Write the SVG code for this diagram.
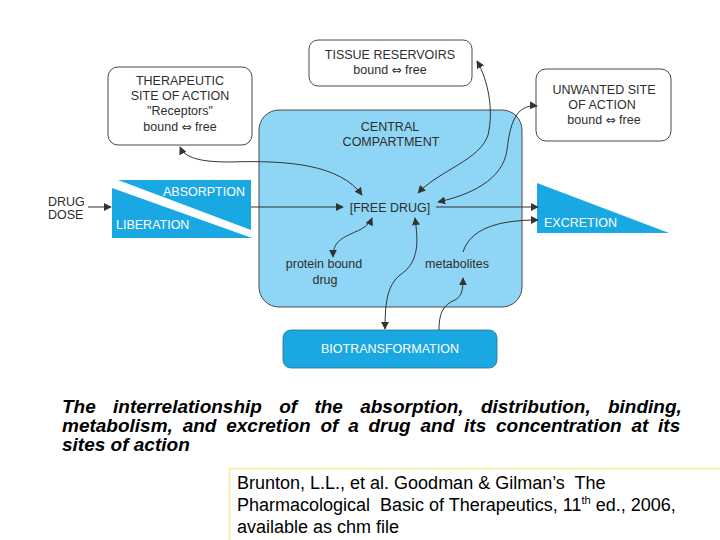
<svg xmlns="http://www.w3.org/2000/svg" width="720" height="540" viewBox="0 0 720 540">
<defs>
<style>
.lbl{font-family:"Liberation Sans","DejaVu Sans",Arial,sans-serif;font-size:12.5px;fill:#2e2e2e;text-anchor:middle}
.wl{font-family:"Liberation Sans","DejaVu Sans",Arial,sans-serif;font-size:12.5px;fill:#ffffff}
.sym{font-family:"DejaVu Sans",sans-serif;font-size:12px}
.box{fill:#ffffff;stroke:#4a4a4a;stroke-width:1}
.dark{fill:#1aa8e2}
.con{fill:none;stroke:#333333;stroke-width:1}
.cap{font-family:"Liberation Sans",Arial,sans-serif;font-size:19px;font-weight:bold;font-style:italic;fill:#000}
.cit{font-family:"Liberation Sans",Arial,sans-serif;font-size:18px;fill:#000}
</style>
<marker id="ah" viewBox="0 0 10 10" refX="9" refY="5" markerWidth="8" markerHeight="8" markerUnits="userSpaceOnUse" orient="auto-start-reverse">
<path d="M0,0 L10,5 L0,10 Z" fill="#333333"/>
</marker>
</defs>
<rect width="720" height="540" fill="#ffffff"/>

<g id="tissue">
<rect class="box" x="309" y="40" width="163" height="46" rx="9"/>
<text class="lbl" x="390" y="59">TISSUE RESERVOIRS</text>
<text class="lbl" x="390" y="74">bound <tspan class="sym">⇔</tspan> free</text>
</g>

<g id="therapeutic">
<rect class="box" x="108" y="67" width="144" height="78" rx="10"/>
<text class="lbl" x="180" y="85">THERAPEUTIC</text>
<text class="lbl" x="180" y="100">SITE OF ACTION</text>
<text class="lbl" x="180" y="115">"Receptors"</text>
<text class="lbl" x="180" y="131">bound <tspan class="sym">⇔</tspan> free</text>
</g>

<g id="unwanted">
<rect class="box" x="536" y="69" width="135" height="72" rx="10"/>
<text class="lbl" x="604" y="94">UNWANTED SITE</text>
<text class="lbl" x="602" y="109">OF ACTION</text>
<text class="lbl" x="604" y="124">bound <tspan class="sym">⇔</tspan> free</text>
</g>

<g id="central">
<rect x="259" y="110" width="263" height="197" rx="20" fill="#8fd5f5" stroke="#4a4a4a" stroke-width="1"/>
<text class="lbl" x="390" y="131">CENTRAL</text>
<text class="lbl" x="391" y="146">COMPARTMENT</text>
<text class="lbl" x="390" y="212">[FREE DRUG]</text>
<text class="lbl" x="324" y="268">protein bound</text>
<text class="lbl" x="325" y="284">drug</text>
<text class="lbl" x="457" y="268">metabolites</text>
</g>

<g id="drugdose">
<text class="lbl" x="48" y="206" style="text-anchor:start">DRUG</text>
<text class="lbl" x="48" y="219" style="text-anchor:start">DOSE</text>
</g>

<g id="absorption">
<polygon class="dark" points="118,180 251,180 251,230"/>
<polygon class="dark" points="112,188 252,238 112,238"/>
<text class="wl" x="163" y="196">ABSORPTION</text>
<text class="wl" x="116" y="229">LIBERATION</text>
</g>

<g id="excretion">
<polygon class="dark" points="537,183 669,233 537,233"/>
<text class="wl" x="544" y="227">EXCRETION</text>
</g>

<g id="biotransformation">
<rect x="283" y="330" width="214" height="38" rx="8" fill="#1aa8e2" stroke="#2a6f8f" stroke-width="0.8"/>
<text class="wl" x="390" y="353" style="text-anchor:middle">BIOTRANSFORMATION</text>
</g>

<g id="connectors">
<path class="con" d="M88,207 L111,207" marker-end="url(#ah)"/>
<path class="con" d="M251,207 L343,207" marker-end="url(#ah)"/>
<path class="con" d="M436,207 L538,207" marker-end="url(#ah)"/>
<path class="con" d="M463,252 C470,230 495,220 538,220" marker-end="url(#ah)"/>
<path class="con" d="M180,147 C185,158 200,162 230,162 C290,160 340,165 362,195" marker-start="url(#ah)" marker-end="url(#ah)"/>
<path class="con" d="M477,61 C488,80 494,110 488,135 C480,160 440,170 418,193" marker-start="url(#ah)" marker-end="url(#ah)"/>
<path class="con" d="M537,106 C515,104 510,125 507,150 C503,180 470,195 438,202" marker-start="url(#ah)" marker-end="url(#ah)"/>
<path class="con" d="M333,257 C333,240 345,237 355,232 C365,228 370,223 372,218" marker-start="url(#ah)" marker-end="url(#ah)"/>
<path class="con" d="M415,218 C418,240 420,262 400,275 C388,285 385,300 385,329" marker-start="url(#ah)" marker-end="url(#ah)"/>
<path class="con" d="M439,330 C439,315 442,305 455,300 C462,296 463,290 463,278" marker-end="url(#ah)"/>
</g>

<g id="caption">
<text class="cap" x="62" y="413" style="word-spacing:12px">The interrelationship of the absorption, distribution, binding,</text>
<text class="cap" x="62" y="432" style="word-spacing:4.5px">metabolism, and excretion of a drug and its concentration at its</text>
<text class="cap" x="62" y="451">sites of action</text>
</g>

<g id="citation">
<path d="M229.5,540 L229.5,468.5 L720,468.5" fill="none" stroke="#f3ee9a" stroke-width="1.5"/>
<text class="cit" x="237" y="489" xml:space="preserve">Brunton, L.L., et al. Goodman &amp; Gilman’s  The</text>
<text class="cit" x="237" y="511" xml:space="preserve">Pharmacological  Basic of Therapeutics, 11<tspan font-size="11" dy="-7">th</tspan><tspan dy="7"> ed., 2006,</tspan></text>
<text class="cit" x="237" y="533">available as chm file</text>
</g>
</svg>
